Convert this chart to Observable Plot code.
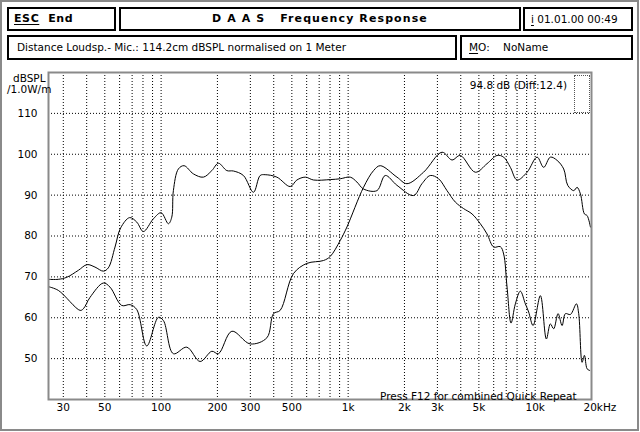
<!DOCTYPE html>
<html><head><meta charset="utf-8">
<script src="https://cdn.jsdelivr.net/npm/d3@7"></script>
<script src="https://cdn.jsdelivr.net/npm/@observablehq/plot@0.6"></script>
<style>
body{margin:0;background:#fff;}
#wrap{position:relative;width:640px;height:432px;overflow:hidden;font-family:"DejaVu Sans",sans-serif;color:#000;background:#fff;}
#chart{position:absolute;left:0;top:0;}
.box{position:absolute;border:2px solid #000;box-sizing:border-box;}
.t{position:absolute;white-space:nowrap;line-height:1;}
.b{font-weight:bold;font-size:11px;}
.r{font-size:10.5px;}
u{text-decoration-thickness:1px;text-underline-offset:2px;}
#outer{position:absolute;left:0;top:0;width:639px;height:431px;border:2px solid #8a8a8a;box-sizing:border-box;}
#mini{position:absolute;left:574px;top:75px;width:16px;height:38px;border:1px dotted #555;box-sizing:border-box;}
</style></head><body>
<div id="wrap">
  <div id="chart"></div>
  <div id="outer"></div>
  <div class="box" style="left:7px;top:7px;width:109px;height:24px;"></div>
  <div class="box" style="left:119px;top:7px;width:402px;height:24px;"></div>
  <div class="box" style="left:523px;top:7px;width:110px;height:24px;"></div>
  <div class="box" style="left:7px;top:35px;width:450px;height:25px;"></div>
  <div class="box" style="left:460px;top:35px;width:173px;height:25px;"></div>
  <div class="t b" style="left:14px;top:13px;letter-spacing:0.6px;"><u>ESC</u>&nbsp; End</div>
  <div class="t b" style="left:119px;width:402px;top:13px;text-align:center;letter-spacing:1.1px;">D A A S&nbsp;&nbsp; Frequency Response</div>
  <div class="t r" style="left:531px;top:14px;"><u>i</u> 01.01.00 00:49</div>
  <div class="t r" style="left:17px;top:42px;">Distance Loudsp.- Mic.: 114.2cm dBSPL normalised on 1 Meter</div>
  <div class="t r" style="left:469px;top:42px;"><u>M</u>O:&nbsp;&nbsp;&nbsp; NoName</div>
  <div class="t r" style="left:13px;top:73px;">dBSPL</div>
  <div class="t r" style="left:7px;top:84px;">/1.0W/m</div>
  <div class="t r" style="right:73px;top:80px;">94.8 dB (Diff:12.4)</div>
  <div id="mini"></div>
  <div class="t r" style="left:380px;top:391px;">Press F12 for combined Quick Repeat</div>
</div>
<script>
// Curve 1 (bass driver): frequency in Hz and level in dBSPL
const freqA = [25, 28.2, 31.3, 36.1, 40.2, 44.3, 49.1, 52.2, 56.7, 60.8, 67.9, 74.1, 80.4, 90.9, 100, 109.4, 114, 116.3, 123.7, 132.7, 148.8, 168.3, 186.7, 202.5, 224.6, 243.6, 275.5, 311.7, 338.5, 360, 415.8, 490, 532, 589.5, 653, 802, 907, 1026, 1114, 1208, 1425, 1579, 1824, 2237, 2481, 2748, 3045, 3377, 3741, 4144, 4595, 5090, 5528, 5997, 6510, 6782, 7072, 7430, 7833, 8331, 8858, 9227, 9741, 10660, 11475, 12055, 12555, 13255, 13923, 14502, 15427, 16607, 17085, 17817, 18330, 18947, 19565];
const dbA = [69.4, 69.4, 69.9, 71.6, 73.0, 72.4, 71.4, 72.2, 77.3, 82.0, 84.5, 83.4, 81.1, 84.2, 85.7, 83.0, 84.6, 91.1, 96.4, 97.2, 95.2, 94.4, 96.0, 97.8, 96.0, 95.9, 94.8, 90.7, 94.8, 95.0, 94.4, 92.1, 93.7, 94.4, 93.7, 93.8, 94.0, 94.4, 93.2, 91.5, 91.1, 94.8, 92.4, 89.9, 92.8, 94.8, 94.0, 91.1, 88.3, 86.7, 85.4, 83.0, 80.5, 77.3, 77.4, 75.6, 67.5, 58.7, 63.4, 66.5, 63.4, 61.4, 58.1, 65.4, 54.8, 58.5, 57.3, 61.0, 58.1, 61.0, 60.8, 63.4, 61.0, 49.1, 50.8, 47.5, 47.1];
// Curve 2 (tweeter)
const freqB = [25, 28.2, 36.9, 38.4, 41.7, 49.1, 53.3, 61.6, 68.3, 74.1, 83.8, 96.7, 102.9, 116.3, 137.2, 161.6, 186.7, 202.5, 238.9, 299.3, 367.7, 398.8, 433, 510, 601.8, 738, 802, 907, 985, 1208, 1367, 1484, 1824, 2063, 2530, 3176, 3590, 3977, 4786, 5528, 6253, 6782, 7365, 8000, 9050, 10235, 11100, 12055, 13095, 14205, 14925, 16067, 16750, 17450, 18330, 18947, 19737];
const dbB = [67.6, 66.7, 61.8, 62.2, 65.0, 68.5, 67.5, 63.0, 63.2, 62.0, 53.1, 60.1, 59.3, 51.2, 52.8, 49.3, 51.8, 51.2, 56.7, 53.6, 55.1, 61.0, 61.8, 70.8, 73.3, 74.0, 75.0, 78.9, 82.2, 91.9, 96.0, 97.2, 94.4, 92.8, 95.6, 100.5, 98.6, 99.7, 95.6, 97.7, 99.7, 99.3, 96.8, 93.7, 95.6, 99.3, 96.8, 99.3, 98.5, 96.4, 92.4, 91.1, 91.9, 90.3, 85.4, 85.0, 82.2];

const yTicks = [50, 60, 70, 80, 90, 100, 110];
const xGrid = [30, 40, 50, 60, 70, 80, 90, 100, 200, 300, 400, 500, 600, 700, 800, 900, 1000, 2000, 3000, 4000, 5000, 6000, 7000, 8000, 9000, 10000];
const xTickValues = [30, 50, 100, 200, 300, 500, 1000, 2000, 3000, 5000, 10000];
const xTickLabels = ["30", "50", "100", "200", "300", "500", "1k", "2k", "3k", "5k", "10k"];
const lastTickValue = [20000];
const lastTickLabel = ["20kHz"];

const A = freqA.map((f, i) => ({f, db: dbA[i]}));
const B = freqB.map((f, i) => ({f, db: dbB[i]}));

const chart = Plot.plot({
  width: 640, height: 432,
  marginLeft: 48, marginRight: 49, marginTop: 72, marginBottom: 33,
  style: {fontFamily: "DejaVu Sans", fontSize: "10px", background: "transparent", color: "#000"},
  x: {type: "log", domain: [25, 20000], axis: null},
  y: {domain: [40, 120], axis: null},
  marks: [
    Plot.ruleX(xGrid, {stroke: "#000", strokeWidth: 1, strokeDasharray: "1,2"}),
    Plot.ruleY(yTicks, {stroke: "#000", strokeWidth: 1, strokeDasharray: "1,2"}),
    Plot.line(A, {x: "f", y: "db", curve: "catmull-rom", stroke: "#000", strokeWidth: 1}),
    Plot.line(B, {x: "f", y: "db", curve: "catmull-rom", stroke: "#000", strokeWidth: 1}),
    Plot.frame({stroke: "#8a8a8a", strokeWidth: 2}),
    Plot.text(yTicks, {x: 25, y: d => d, text: d => String(d), textAnchor: "end", dx: -11, fontSize: 10.5}),
    Plot.text(xTickLabels, {x: (d, i) => xTickValues[i], text: d => d, frameAnchor: "bottom", dy: 11, fontSize: 10.5}),
    Plot.text(lastTickLabel, {x: (d, i) => lastTickValue[i], text: d => d, frameAnchor: "bottom", dy: 11, dx: -8, textAnchor: "start", fontSize: 10.5})
  ]
});
document.getElementById("chart").appendChild(chart);
</script>
</body></html>
